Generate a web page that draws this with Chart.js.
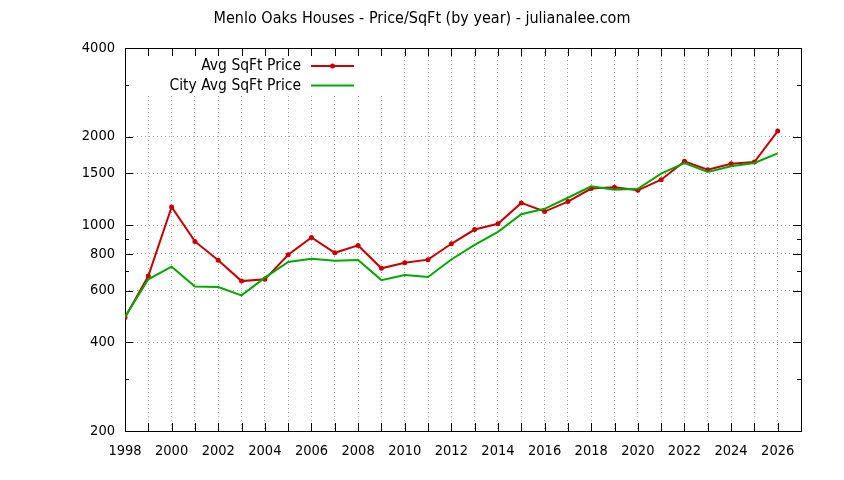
<!DOCTYPE html>
<html>
<head>
<meta charset="utf-8">
<script src="https://cdn.jsdelivr.net/npm/chart.js@4/dist/chart.umd.min.js"></script>
<style>
  body { margin: 0; background: #fff; }
</style>
</head>
<body>
<canvas id="chart" width="844" height="480"></canvas>
<script>
// values
var years = [1998, 1999, 2000, 2001, 2002, 2003, 2004, 2005, 2006, 2007, 2008, 2009, 2010, 2011,
             2012, 2013, 2014, 2015, 2016, 2017, 2018, 2019, 2020, 2021, 2022, 2023, 2024, 2025, 2026];
var avgPrice = [486, 672, 1154, 881, 760, 646, 655, 794, 909, 806, 854, 714, 746, 764,
                865, 967, 1011, 1191, 1113, 1203, 1332, 1345, 1314, 1428, 1648, 1544, 1618, 1640, 2089];
var cityPrice = [488, 655, 723, 619, 617, 578, 664, 750, 770, 758, 762, 651, 677, 667,
                 765, 858, 950, 1090, 1137, 1240, 1356, 1321, 1330, 1497, 1627, 1517, 1585, 1627, 1754];
var seriesNames = ["Avg SqFt Price", "City Avg SqFt Price"];
var yLabels = [200, 400, 600, 800, 1000, 1500, 2000, 4000];
var yMinor = [300, 700, 900, 3000];
var titleText = "Menlo Oaks Houses - Price/SqFt (by year) - julianalee.com";

var FONT = "'DejaVu Sans Condensed', 'DejaVu Sans', sans-serif";
var RED = "rgb(204,0,0)";
var GREEN = "rgb(0,170,0)";

function toPoints(vals) {
    return years.map(function (y, i) { return { x: y, y: vals[i] }; });
}

// gnuplot style frame: title, opaque key, border and inward ticks
var framePlugin = {
    id: 'frame',
    beforeDatasetsDraw: function (chart) {
        var ctx = chart.ctx, a = chart.chartArea;
        var xs = chart.scales.x, ys = chart.scales.y;

        ctx.save();
        // title, centred on the whole canvas
        ctx.font = '16px ' + FONT;
        ctx.fillStyle = '#000';
        ctx.textAlign = 'center';
        ctx.textBaseline = 'middle';
        ctx.fillText(titleText, chart.width / 2, 19);

        // key
        ctx.fillStyle = '#fff';
        ctx.fillRect(a.left + 1, a.top + 1, 266, 47);
        ctx.font = '15.5px ' + FONT;
        ctx.fillStyle = '#000';
        ctx.textAlign = 'right';
        var rows = [{ c: RED, dot: true }, { c: GREEN, dot: false }];
        rows.forEach(function (r, i) {
            var ty = 66 + i * 19.5;
            ctx.fillText(seriesNames[i], 301, ty);
            ctx.strokeStyle = r.c;
            ctx.lineWidth = 2;
            ctx.beginPath();
            ctx.moveTo(311, ty);
            ctx.lineTo(354, ty);
            ctx.stroke();
            if (r.dot) {
                ctx.fillStyle = r.c;
                ctx.beginPath();
                ctx.arc(332.5, ty, 2.5, 0, Math.PI * 2);
                ctx.fill();
                ctx.fillStyle = '#000';
            }
        });

        // ticks
        ctx.strokeStyle = '#000';
        ctx.lineWidth = 1;
        ctx.beginPath();
        for (var yr = years[0]; yr <= xs.max; yr++) {
            var px = Math.round(xs.getPixelForValue(yr)) + 0.5;
            ctx.moveTo(px, a.bottom); ctx.lineTo(px, a.bottom - 8);
            ctx.moveTo(px, a.top); ctx.lineTo(px, a.top + 8);
        }
        yLabels.concat(yMinor).forEach(function (v) {
            var len = yLabels.indexOf(v) >= 0 ? 8 : 4;
            var py = Math.round(ys.getPixelForValue(v)) + 0.5;
            ctx.moveTo(a.left, py); ctx.lineTo(a.left + len, py);
            ctx.moveTo(a.right, py); ctx.lineTo(a.right - len, py);
        });
        ctx.stroke();

        // border
        ctx.strokeRect(Math.round(a.left) + 0.5, Math.round(a.top) + 0.5,
                       Math.round(a.right - a.left), Math.round(a.bottom - a.top));
        ctx.restore();
    }
};

new Chart(document.getElementById('chart'), {
    type: 'line',
    data: {
        datasets: [
            {
                label: seriesNames[0],
                data: toPoints(avgPrice),
                borderColor: RED,
                backgroundColor: RED,
                borderWidth: 2,
                pointRadius: 2.5,
                pointBorderWidth: 0,
                tension: 0,
                order: 1
            },
            {
                label: seriesNames[1],
                data: toPoints(cityPrice),
                borderColor: GREEN,
                backgroundColor: GREEN,
                borderWidth: 2,
                pointRadius: 0,
                tension: 0,
                order: 0
            }
        ]
    },
    options: {
        responsive: false,
        animation: false,
        events: [],
        layout: { padding: { left: 0, right: 43, top: 48, bottom: 0 } },
        plugins: {
            legend: { display: false },
            tooltip: { enabled: false },
            title: { display: false }
        },
        scales: {
            x: {
                type: 'linear',
                min: 1998,
                max: 2027,
                afterFit: function (s) { s.height = 49; },
                ticks: {
                    stepSize: 1,
                    autoSkip: false,
                    maxRotation: 0,
                    padding: 12,
                    color: '#000',
                    font: { family: FONT, size: 14.5 },
                    callback: function (v) { return v % 2 === 0 && v < 2027 ? String(v) : ''; }
                },
                grid: {
                    drawTicks: false,
                    lineWidth: 1,
                    color: 'rgb(160,160,160)'
                },
                border: { display: false, dash: [1, 3] }
            },
            y: {
                type: 'logarithmic',
                min: 200,
                max: 4000,
                afterFit: function (s) { s.width = 125; },
                afterBuildTicks: function (s) {
                    s.ticks = yLabels.concat(yMinor).sort(function (a, b) { return a - b; })
                        .map(function (v) { return { value: v }; });
                },
                ticks: {
                    padding: 10,
                    color: '#000',
                    font: { family: FONT, size: 14.5 },
                    callback: function (v) { return yLabels.indexOf(v) >= 0 ? String(v) : ''; }
                },
                grid: {
                    drawTicks: false,
                    lineWidth: 1,
                    color: function (c) {
                        return c.tick && yLabels.indexOf(c.tick.value) >= 0 ? 'rgb(160,160,160)' : 'rgba(0,0,0,0)';
                    }
                },
                border: { display: false, dash: [1, 3] }
            }
        }
    },
    plugins: [framePlugin]
});
</script>
</body>
</html>
